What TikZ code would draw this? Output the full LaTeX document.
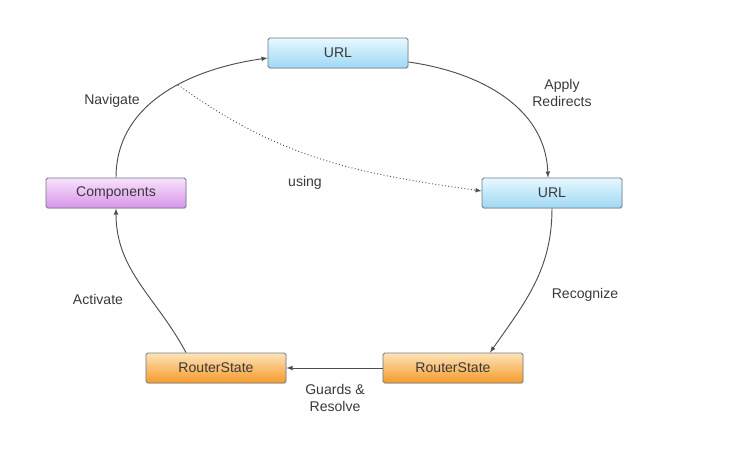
\documentclass[tikz,border=0pt]{standalone}
\usepackage{fontspec}
\setmainfont{Liberation Sans}
\usetikzlibrary{arrows,positioning,calc,shadows}

\definecolor{urltop}{HTML}{E8F8FF}
\definecolor{urlbot}{HTML}{9ED8F4}
\definecolor{comptop}{HTML}{F8E2FC}
\definecolor{compbot}{HTML}{D795E8}
\definecolor{rstop}{HTML}{FDE3B8}
\definecolor{rsbot}{HTML}{F59A2A}
\definecolor{boxline}{HTML}{6E7C86}
\definecolor{txt}{HTML}{3A3A3A}

\tikzset{
  state/.style={draw=boxline, line width=0.7pt, rounded corners=1.5pt,
    minimum width=4.2cm, minimum height=0.9cm, text=txt,
    font=\fontsize{12}{14}\selectfont,
    drop shadow={opacity=0.2, shadow xshift=0.6pt, shadow yshift=-0.8pt}},
  urlbox/.style={state, top color=urltop, bottom color=urlbot},
  compbox/.style={state, top color=comptop, bottom color=compbot},
  rsbox/.style={state, top color=rstop, bottom color=rsbot},
  flow/.style={draw=txt!90, line width=0.8pt, -latex},
  lbl/.style={text=txt, align=center, font=\fontsize{12}{14}\selectfont}
}

\begin{document}
\begin{tikzpicture}[x=0.03cm, y=0.03cm]
%      \draw[help lines] (0, 0) grid (744, 465);
      \useasboundingbox (0,0) rectangle (744,465);

      % the boxes
      \node[urlbox]  (url)    at (338,412) {URL};
      \node[urlbox]  (urlred) at (552,272) {URL};
      \node[compbox] (comp)   at (116,272) {Components};
      \node[rsbox]   (rsact)  at (216,97)  {RouterState};
      \node[rsbox]   (rsrec)  at (453,97)  {RouterState};

      % the cycle
      \draw[flow] (comp.north) to[out=90, in=188]
            coordinate[pos=0.58] (navpt) ($(url.west)+(0,-5)$);
      \draw[flow] ($(url.east)+(0,-9)$) to[out=-8, in=92] ($(urlred.north)+(-4,0)$);
      \draw[flow] (urlred.south) to[out=-90, in=55] ($(rsrec.north)+(37,0)$);
      \draw[flow] (rsrec.west) -- (rsact.east);
      \draw[flow] ($(rsact.north)+(-30,0)$) to[out=118, in=-90] (comp.south);

      % dotted shortcut
      \draw[flow, dotted] (navpt) to[out=-36, in=172] ($(urlred.west)+(0,2)$);

      % labels
      \node[lbl] (navlbl) at (112,364) {Navigate};
      \node[lbl] (redlbl) at (562,372) {Apply\\Redirects};
      \node[lbl] (uselbl) at (305,282) {using};
      \node[lbl] (reclbl) at (585,170) {Recognize};
      \node[lbl] (actlbl) at (98,166)  {Activate};
      \node[lbl] (grdlbl) at (335,67)  {Guards \&\\Resolve};
\end{tikzpicture}
\end{document}
